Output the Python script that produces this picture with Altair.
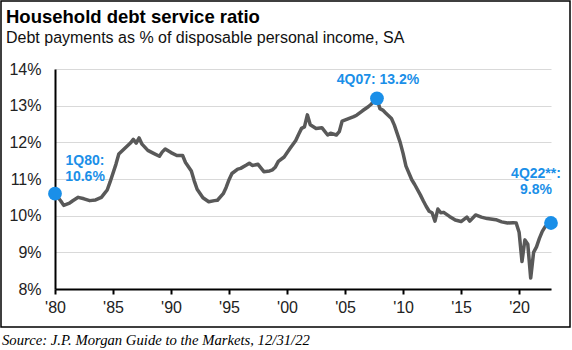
import altair as alt
import pandas as pd

# ---- data ----
years = [1980.0, 1980.5, 1980.75, 1981.25, 1981.5, 1982.0, 1982.5, 1983.0, 1983.5, 1984.0,
         1984.25, 1984.5, 1984.75, 1985.25, 1985.5, 1986.0, 1986.5, 1986.75, 1987.0, 1987.25,
         1987.5, 1988.0, 1988.5, 1989.0, 1989.25, 1989.5, 1990.0, 1990.5, 1991.0, 1991.25,
         1991.75, 1992.0, 1992.25, 1992.75, 1993.25, 1993.75, 1994.0, 1994.5, 1994.75, 1995.0,
         1995.25, 1995.75, 1996.0, 1996.5, 1996.75, 1997.0, 1997.5, 1998.0, 1998.5, 1998.75,
         1999.0, 1999.25, 1999.75, 2000.25, 2000.75, 2001.0, 2001.25, 2001.5, 2001.75, 2002.0,
         2002.5, 2003.0, 2003.5, 2003.75, 2004.25, 2004.5, 2004.75, 2005.25, 2005.75, 2006.0,
         2006.5, 2007.0, 2007.25, 2007.75, 2008.0, 2008.25, 2008.5, 2009.0, 2009.25, 2009.75,
         2010.0, 2010.25, 2010.75, 2011.0, 2011.5, 2011.75, 2012.0, 2012.25, 2012.5, 2012.75,
         2013.0, 2013.25, 2013.5, 2014.0, 2014.5, 2015.0, 2015.5, 2015.75, 2016.25, 2016.75,
         2017.25, 2018.0, 2018.5, 2019.0, 2019.5, 2019.75, 2020.0, 2020.25, 2020.5, 2020.75,
         2021.0, 2021.25, 2021.5, 2021.75, 2022.0, 2022.25, 2022.5, 2022.75]
ratio = [10.6, 10.40, 10.28, 10.34, 10.40, 10.50, 10.46, 10.41, 10.43, 10.50,
         10.60, 10.70, 10.92, 11.40, 11.68, 11.83, 11.98, 12.08, 11.98, 12.12,
         11.95, 11.78, 11.70, 11.62, 11.74, 11.82, 11.72, 11.64, 11.64, 11.45,
         11.22, 10.95, 10.72, 10.49, 10.38, 10.41, 10.42, 10.60, 10.77, 10.98,
         11.15, 11.27, 11.29, 11.38, 11.43, 11.37, 11.40, 11.20, 11.22, 11.25,
         11.33, 11.48, 11.60, 11.83, 12.05, 12.22, 12.38, 12.42, 12.75, 12.48,
         12.38, 12.40, 12.20, 12.25, 12.20, 12.29, 12.58, 12.64, 12.70, 12.74,
         12.86, 12.97, 13.04, 13.2, 12.92, 12.88, 12.80, 12.65, 12.47, 12.00,
         11.70, 11.35, 10.98, 10.85, 10.56, 10.40, 10.25, 10.12, 10.08, 9.85,
         10.18, 10.08, 10.09, 9.98, 9.88, 9.84, 9.96, 9.85, 10.02, 9.96,
         9.92, 9.89, 9.83, 9.80, 9.81, 9.80, 9.55, 8.75, 9.34, 9.22,
         8.30, 9.00, 9.15, 9.38, 9.57, 9.70, 9.76, 9.8]

hl_years = [1980.0, 2007.75, 2022.75]
hl_values = [10.6, 13.2, 9.8]
hl_line1 = ["1Q80:", "4Q07: 13.2%", "4Q22**:"]
hl_line2 = ["10.6%", "", "9.8%"]

y_ticks = [8, 9, 10, 11, 12, 13, 14]
x_ticks = [1980, 1985, 1990, 1995, 2000, 2005, 2010, 2015, 2020]

title = "Household debt service ratio"
subtitle = "Debt payments as % of disposable personal income, SA"
source = "Source:  J.P. Morgan Guide to the Markets, 12/31/22"

# ---- tables ----
df = pd.DataFrame({"year": years, "ratio": ratio})
hl = pd.DataFrame({"year": hl_years, "ratio": hl_values,
                   "l1": hl_line1, "l2": hl_line2})

BLUE = "#1a8fe8"
LINE = "#595959"
SANS = "Liberation Sans"

xs = alt.Scale(domain=[1980, 2022.75], nice=False, zero=False)
ys = alt.Scale(domain=[8, 14], nice=False, zero=False)

x_axis = alt.Axis(
    values=x_ticks, title=None, grid=False, domain=True, domainColor="#000000",
    domainWidth=2, ticks=True, tickSize=5, tickColor="#000000", tickWidth=2,
    labelFont=SANS, labelFontSize=16, labelColor="#222222", labelPadding=5,
    labelFlush=False, labelOverlap=False,
    labelExpr="\"'\" + slice(toString(datum.value), 2)")
y_axis = alt.Axis(
    values=y_ticks, title=None, grid=True, gridColor="#d9d9d9", gridWidth=1.2,
    domain=True, domainColor="#000000", domainWidth=2, ticks=False,
    labelFont=SANS, labelFontSize=16, labelColor="#222222", labelPadding=14,
    labelFlush=False, labelOverlap=False,
    labelExpr="datum.value + '%'")

X = alt.X("year:Q", scale=xs, axis=x_axis)
Y = alt.Y("ratio:Q", scale=ys, axis=y_axis)

line = alt.Chart(df).mark_line(color=LINE, strokeWidth=3.5, strokeJoin="round",
                               strokeCap="round").encode(x=X, y=Y)

pts = alt.Chart(hl).mark_circle(color=BLUE, opacity=1, size=190).encode(x=X, y=Y)

def label(idx, field, dx, dy):
    return alt.Chart(hl.iloc[[idx]]).mark_text(
        font=SANS, fontSize=14, fontWeight="bold", color=BLUE,
        align="center", baseline="alphabetic", dx=dx, dy=dy).encode(
        x=X, y=Y, text=f"{field}:N")

labels = [
    label(0, "l1", 30, -29),
    label(0, "l2", 30, -13),
    label(1, "l1", 1, -14),
    label(2, "l1", -15, -45),
    label(2, "l2", -15, -29),
]

one = pd.DataFrame({"a": [0]})
border = alt.Chart(one).mark_rect(filled=False, stroke="#000000", strokeWidth=1.5).encode(
    x=alt.value(-54), x2=alt.value(515), y=alt.value(-68), y2=alt.value(258))
t1 = alt.Chart(one).mark_text(font=SANS, fontSize=18.5, fontWeight="bold", color="#000000",
                              align="left", baseline="alphabetic").encode(
    x=alt.value(-49), y=alt.value(-46), text=alt.value(title))
t2 = alt.Chart(one).mark_text(font=SANS, fontSize=16, color="#111111",
                              align="left", baseline="alphabetic").encode(
    x=alt.value(-49), y=alt.value(-26.5), text=alt.value(subtitle))
t3 = alt.Chart(one).mark_text(font="Liberation Serif", fontSize=14.7, fontStyle="italic",
                              color="#000000", align="left", baseline="alphabetic").encode(
    x=alt.value(-53), y=alt.value(276), text=alt.value(source))

chart = alt.layer(line, pts, *labels, border, t1, t2, t3).properties(
    width=496, height=220,
    padding={"left": 55, "top": 69, "right": 21, "bottom": 61},
    autosize=alt.AutoSizeParams(type="none"),
    background="#ffffff",
).configure_view(strokeWidth=0)

chart.save("out.html", embed_options={"renderer": "svg", "actions": False})
